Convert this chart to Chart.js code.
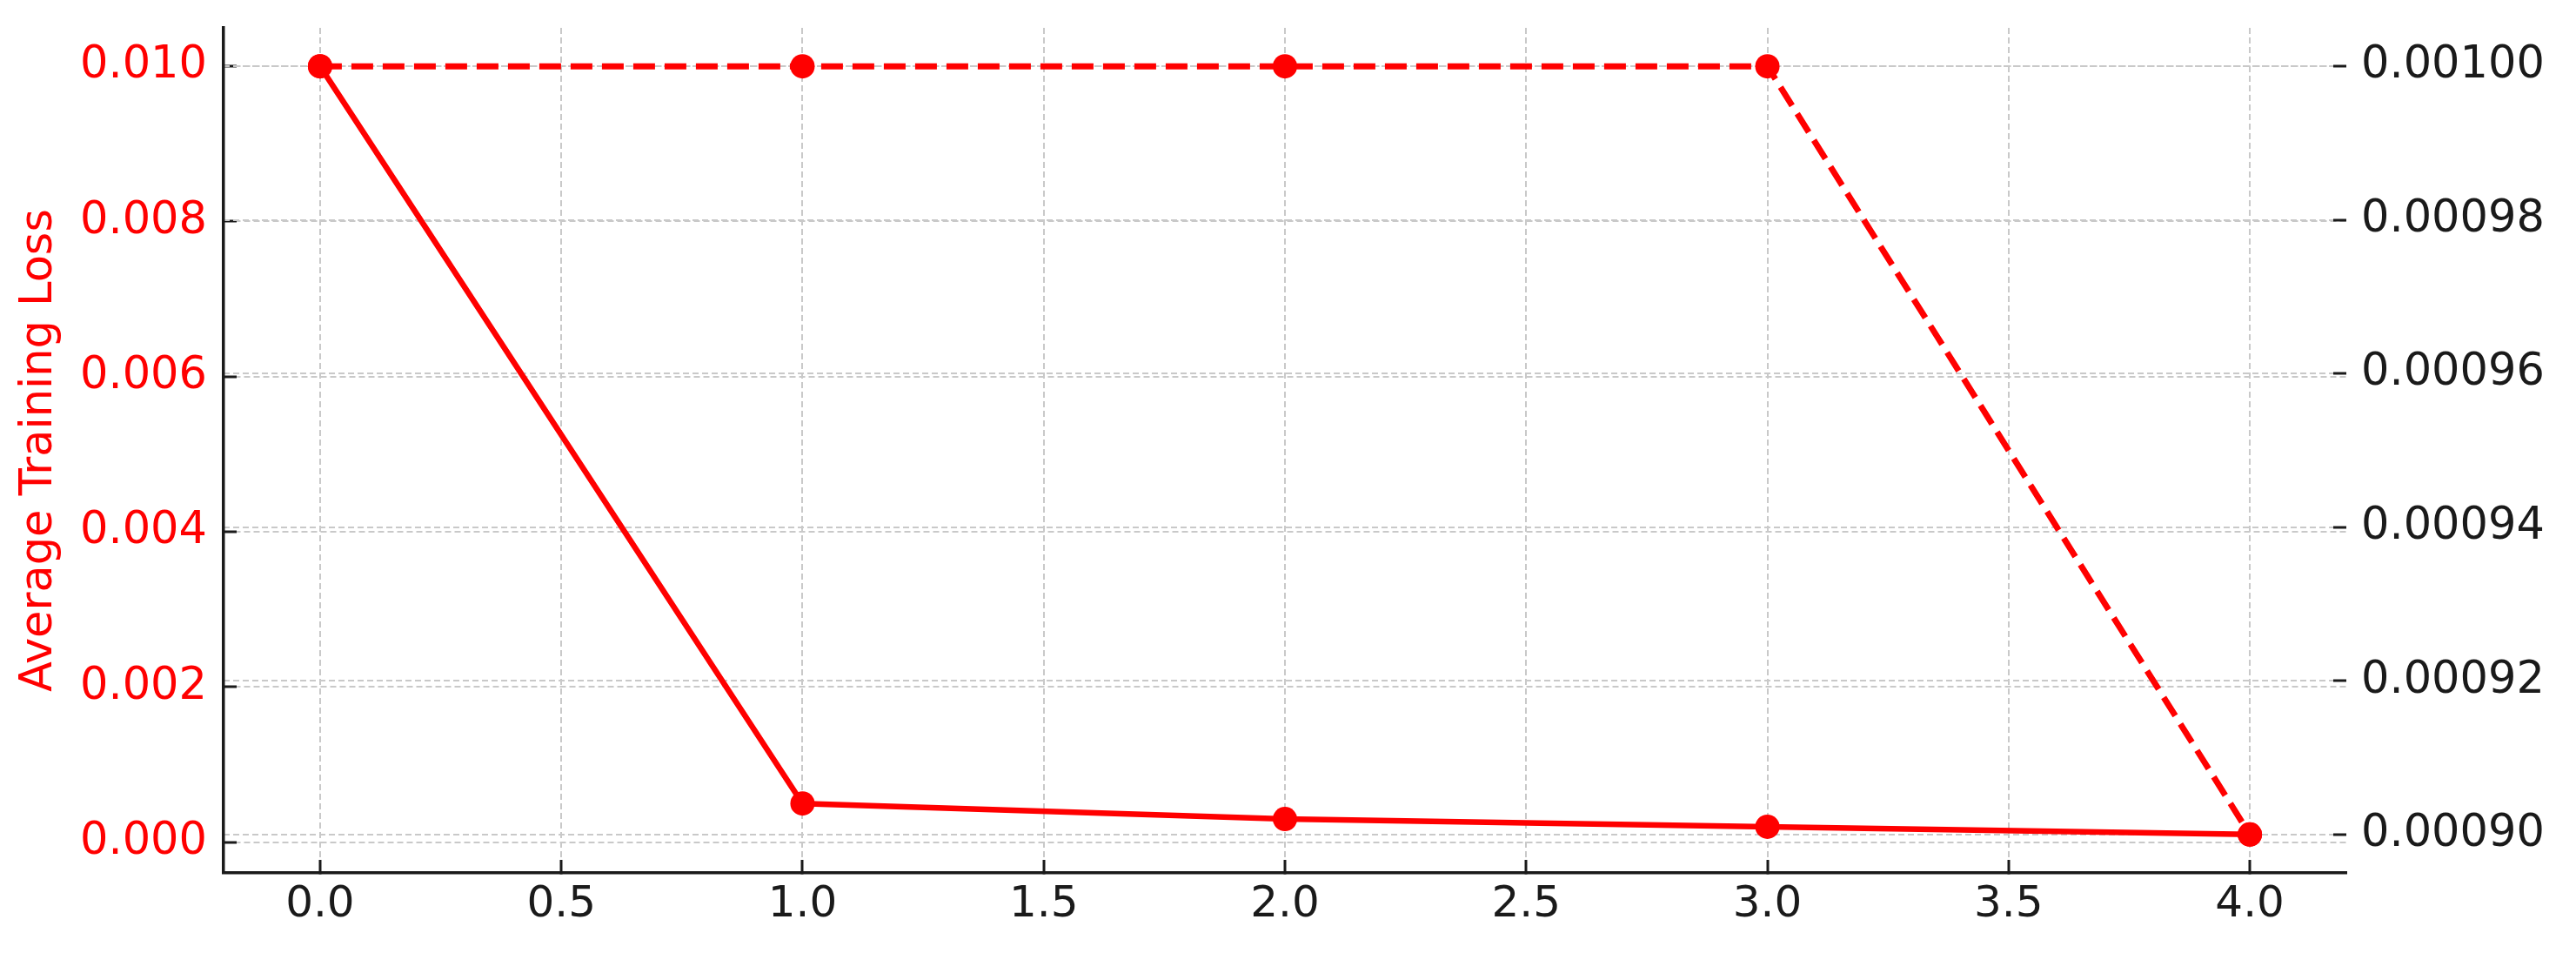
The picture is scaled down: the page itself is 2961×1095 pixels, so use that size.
<!DOCTYPE html>
<html>
<head>
<meta charset="utf-8">
<script src="https://cdn.jsdelivr.net/npm/chart.js@4"></script>
<style>
  html, body { margin: 0; padding: 0; background: #fff; }
  #wrap { width: 2961px; height: 1095px; }
</style>
</head>
<body>
<div id="wrap"><canvas id="chart" width="2961" height="1095"></canvas></div>
<script>
  const epochs = [0, 1, 2, 3, 4];
  const avgLoss = [0.0100, 0.0005, 0.0003, 0.0002, 0.0001];
  const learningRate = [0.00100, 0.00100, 0.00100, 0.00100, 0.00090];

  const xTicks = [0, 0.5, 1, 1.5, 2, 2.5, 3, 3.5, 4];
  const lossTicks = [0, 0.002, 0.004, 0.006, 0.008, 0.010];
  const lrTicks = [0.00090, 0.00092, 0.00094, 0.00096, 0.00098, 0.00100];

  const RED = "#ff0000";
  const INK = "#1a1a1a";
  const GRID = "#c9c9c9";
  const FONT = "'DejaVu Sans', sans-serif";

  const toPoints = (ys) => epochs.map((x, i) => ({ x, y: ys[i] }));
  const useTicks = (list) => (scale) => {
    scale.ticks = list.map((v) => ({ value: v }));
  };
  // fixed axis width, and no extra room for half tick labels at the ends
  const fixWidth = (w) => (scale) => {
    scale.width = w;
    scale.paddingTop = 0;
    scale.paddingBottom = 0;
  };

  new Chart(document.getElementById("chart"), {
    type: "line",
    data: {
      datasets: [
        {
          label: "Average Training Loss",
          data: toPoints(avgLoss),
          yAxisID: "y",
          borderColor: RED,
          backgroundColor: RED,
          borderWidth: 6.5,
          pointRadius: 14,
          pointBorderWidth: 0,
          pointBackgroundColor: RED,
          tension: 0,
        },
        {
          label: "Learning Rate",
          data: toPoints(learningRate),
          yAxisID: "y1",
          borderColor: RED,
          backgroundColor: RED,
          borderWidth: 7,
          borderDash: [25, 11],
          pointRadius: 14,
          pointBorderWidth: 0,
          pointBackgroundColor: RED,
          tension: 0,
        },
      ],
    },
    options: {
      responsive: false,
      animation: false,
      devicePixelRatio: 1,
      events: [],
      layout: { padding: { top: 32, left: 0, right: 0, bottom: 0 } },
      plugins: {
        legend: { display: false },
        tooltip: { enabled: false },
      },
      scales: {
        x: {
          type: "linear",
          position: "bottom",
          min: -0.2,
          max: 4.2,
          afterBuildTicks: useTicks(xTicks),
          afterFit: (scale) => {
            scale.height = 92;
            scale.paddingLeft = 0;
            scale.paddingRight = 0;
          },
          ticks: {
            color: INK,
            padding: 22,
            font: { family: FONT, size: 50 },
            callback: (v) => Number(v).toFixed(1),
          },
          grid: {
            color: GRID,
            lineWidth: 2,
            tickLength: -15,
            tickColor: INK,
            tickWidth: 3,
          },
          border: { display: true, color: INK, width: 3.5, dash: [7, 4] },
        },
        y: {
          type: "linear",
          position: "left",
          min: -0.000395,
          max: 0.010495,
          afterBuildTicks: useTicks(lossTicks),
          afterFit: fixWidth(257),
          ticks: {
            color: RED,
            padding: 34,
            font: { family: FONT, size: 51 },
            callback: (v) => Number(v).toFixed(3),
          },
          title: {
            display: true,
            text: "Average Training Loss",
            color: RED,
            font: { family: FONT, size: 51 },
            padding: { top: 15, bottom: 0 },
          },
          grid: {
            color: GRID,
            lineWidth: 2,
            tickLength: -15,
            tickColor: INK,
            tickWidth: 3,
          },
          border: { display: true, color: INK, width: 3.5, dash: [7, 4] },
        },
        y1: {
          type: "linear",
          position: "right",
          min: 0.000895,
          max: 0.001005,
          afterBuildTicks: useTicks(lrTicks),
          afterFit: fixWidth(264),
          ticks: {
            color: INK,
            padding: 32,
            font: { family: FONT, size: 51 },
            callback: (v) => Number(v).toFixed(5),
          },
          grid: {
            color: GRID,
            lineWidth: 2,
            tickLength: -15,
            tickColor: INK,
            tickWidth: 3,
          },
          border: { display: false, dash: [7, 4] },
        },
      },
    },
  });
</script>
</body>
</html>
